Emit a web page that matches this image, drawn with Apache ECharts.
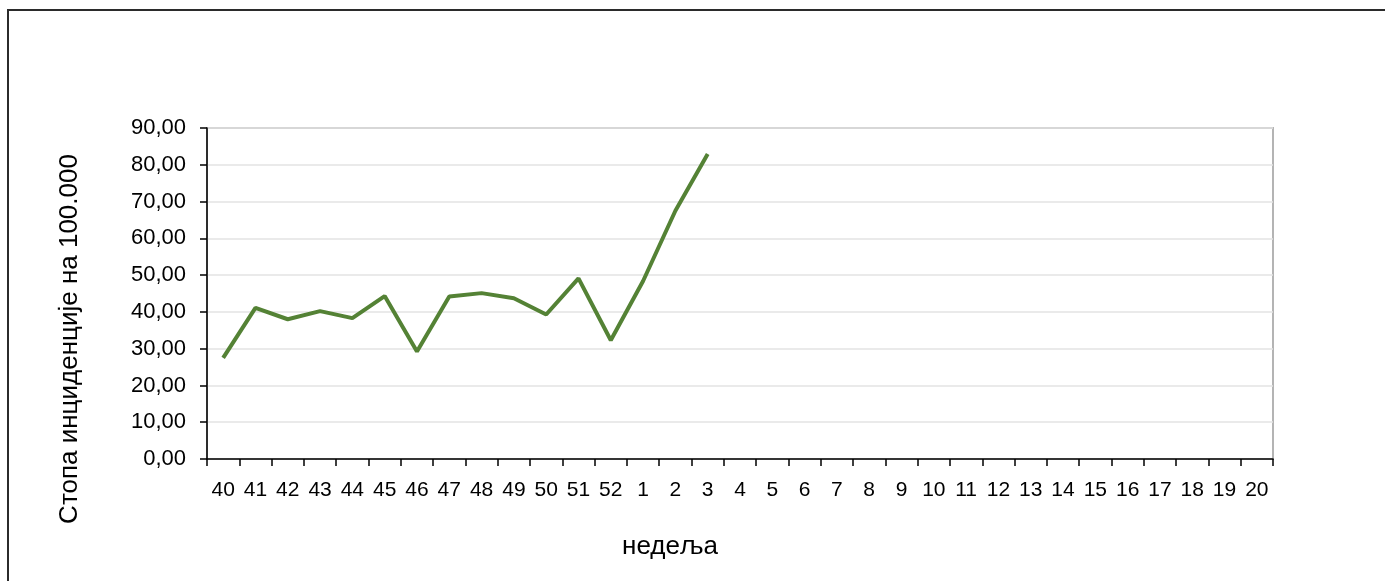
<!DOCTYPE html>
<html>
<head>
<meta charset="utf-8">
<script src="https://cdn.jsdelivr.net/npm/echarts@6/dist/echarts.min.js"></script>
<style>
html,body{margin:0;padding:0;background:#fff;}
#main{width:1385px;height:581px;}
</style>
</head>
<body>
<div id="main"></div>
<script>
var weeks = ['40','41','42','43','44','45','46','47','48','49','50','51','52','1','2','3','4','5','6','7','8','9','10','11','12','13','14','15','16','17','18','19','20'];
var rates = [27.5, 41.1, 38.0, 40.2, 38.3, 44.3, 29.2, 44.2, 45.1, 43.7, 39.3, 49.1, 32.3, 48.4, 67.5, 82.9];
var yTitle = 'Стопа инциденције на 100.000';
var xTitle = 'недеља';

var chart = echarts.init(document.getElementById('main'));
var font = '"Liberation Sans", Arial, sans-serif';
chart.setOption({
  animation: false,
  backgroundColor: '#ffffff',
  grid: {
    left: 207, top: 128, right: 112, bottom: 122,
    show: true, borderColor: '#b4b4b4', borderWidth: 2, backgroundColor: 'transparent'
  },
  graphic: [
    {
      type: 'rect', shape: {x: 8, y: 10, width: 1400, height: 620},
      style: {fill: 'none', stroke: '#2b2b2b', lineWidth: 2}, silent: true, z: -1
    },
    {
      type: 'text', x: 70, y: 339, rotation: Math.PI / 2,
      style: {text: yTitle, fontSize: 26, fontFamily: font, fill: '#000', align: 'center', verticalAlign: 'middle'}
    },
    {
      type: 'text', x: 670, y: 547,
      style: {text: xTitle, fontSize: 26, fontFamily: font, fill: '#000', align: 'center', verticalAlign: 'middle'}
    }
  ],
  xAxis: {
    type: 'category',
    data: weeks,
    boundaryGap: true,
    axisLine: {show: true, lineStyle: {color: '#000', width: 1.5}},
    axisTick: {show: true, alignWithLabel: false, interval: 0, length: 7, lineStyle: {color: '#000', width: 1.5}},
    axisLabel: {interval: 0, color: '#000', fontSize: 21, fontFamily: font, margin: 21},
    splitLine: {show: false}
  },
  yAxis: {
    type: 'value',
    min: 0, max: 90, interval: 10,
    axisLine: {show: true, lineStyle: {color: '#000', width: 1.5}},
    axisTick: {show: true, length: 7, lineStyle: {color: '#000', width: 1.5}},
    axisLabel: {
      color: '#000', fontSize: 22, fontFamily: font, margin: 21,
      formatter: function (v) { return v.toFixed(2).replace('.', ','); }
    },
    splitLine: {show: true, lineStyle: {color: '#e3e3e3', width: 1.5}}
  },
  series: [{
    type: 'line',
    data: rates,
    symbol: 'none',
    lineStyle: {color: '#548235', width: 4},
    itemStyle: {color: '#548235'}
  }]
});
</script>
</body>
</html>
